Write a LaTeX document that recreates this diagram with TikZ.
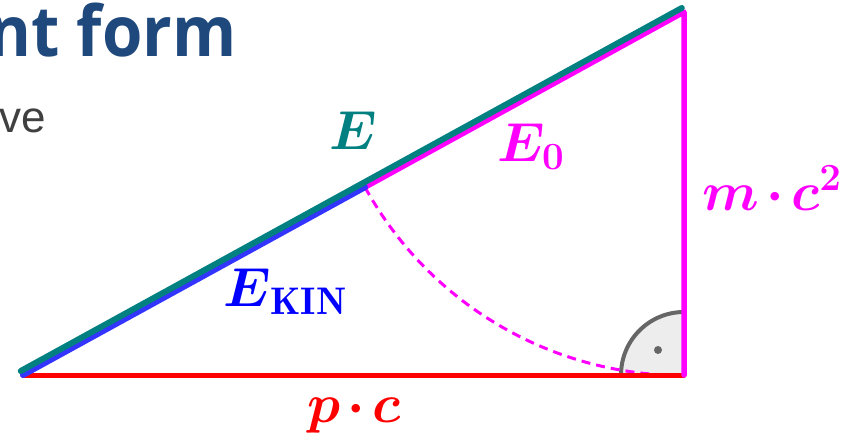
\RequirePackage{fix-cm}
\documentclass[tikz,border=0pt]{standalone}
\usepackage{amsmath}
\usepackage{fontspec}
\newfontfamily\headfont{Open Sans}
\newfontfamily\bodyfont{Liberation Sans}
\newcommand{\biglabel}{\fontsize{55}{60}\selectfont}
\definecolor{headblue}{HTML}{1F497D}
\definecolor{bodygray}{HTML}{404040}
\definecolor{edgeteal}{HTML}{008080}
\definecolor{edgeblue}{HTML}{3434FF}
\definecolor{edgemagenta}{HTML}{FF00FF}
\definecolor{edgered}{HTML}{FF0000}
\definecolor{markgray}{HTML}{666666}

\begin{document}
\begin{tikzpicture}[
  x=1pt,
  y=1pt,
  every node/.style={inner sep=0pt},
  total/.style={edgeteal, line width=6pt, line cap=round},
  kinetic/.style={edgeblue, line width=6pt, line cap=round},
  rest/.style={edgemagenta, line width=5.5pt, line cap=round, line join=round},
  momentum/.style={edgered, line width=5pt, line cap=round},
  swing/.style={edgemagenta, line width=3pt, dash pattern=on 9pt off 6pt},
  anglefill/.style={fill=black!7},
  anglearc/.style={markgray, line width=4pt},
  dotmark/.style={circle, fill=markgray, inner sep=0pt, minimum size=8pt},
  lbl/.style={font=\biglabel, inner sep=0pt}
]
  \useasboundingbox (0,0) rectangle (848,437);

  % ---- heading and body text (cut at the left edge) ----
  \node[anchor=base west, headblue, xscale=0.934,
        font=\headfont\bfseries\fontsize{70}{76}\selectfont]
    (title) at (-11.5,380) {nt form};
  \node[anchor=base west, bodygray, font=\bodyfont\fontsize{44}{48}\selectfont]
    (body) at (-1,304) {ve};

  % ---- corners of the triangle ----
  \coordinate (A) at (23,62);
  \coordinate (B) at (684,62);
  \coordinate (C) at (684,425);
  \coordinate (P) at (365,249.8);   % |PC| = |BC|
  \coordinate (At) at (20.8,66);    % teal edge, shifted off the hypotenuse
  \coordinate (Ct) at (681.8,429);

  % ---- right angle mark ----
  \fill[anglefill] (B) -- ++(-63,0) arc[start angle=180, end angle=90, radius=63] -- cycle;
  \draw[anglearc] (B) ++(-63,0) arc[start angle=180, end angle=90, radius=63];
  \node[dotmark] (dot) at (658,87) {};

  % ---- mc^2 swung down onto the hypotenuse ----
  \draw[swing] (P) arc[start angle=208.77, end angle=270, radius=363];

  % ---- sides ----
  \draw[momentum] (A) -- (B);
  \draw[rest] (P) -- (C) -- (B);
  \draw[kinetic] (A) -- (P);
  \draw[total] (At) -- (Ct);

  % ---- labels ----
  \node[lbl, edgeteal] (elbl) at (353,306) {$\boldsymbol{E}$};
  \node[lbl, edgemagenta] (restlbl) at (531,290) {$\boldsymbol{E_0}$};
  \node[lbl, edgemagenta] (masslbl) at (772,249)
    {$\boldsymbol{m\mkern-2mu\cdot\mkern-2mu c^2}$};
  \node[lbl, blue] (kinlbl) at (285,145) {$\boldsymbol{E}_{\mathbf{KIN}}$};
  \node[lbl, edgered] (momlbl) at (354,22)
    {$\boldsymbol{p\mkern-2mu\cdot\mkern-2mu c}$};
\end{tikzpicture}
\end{document}
